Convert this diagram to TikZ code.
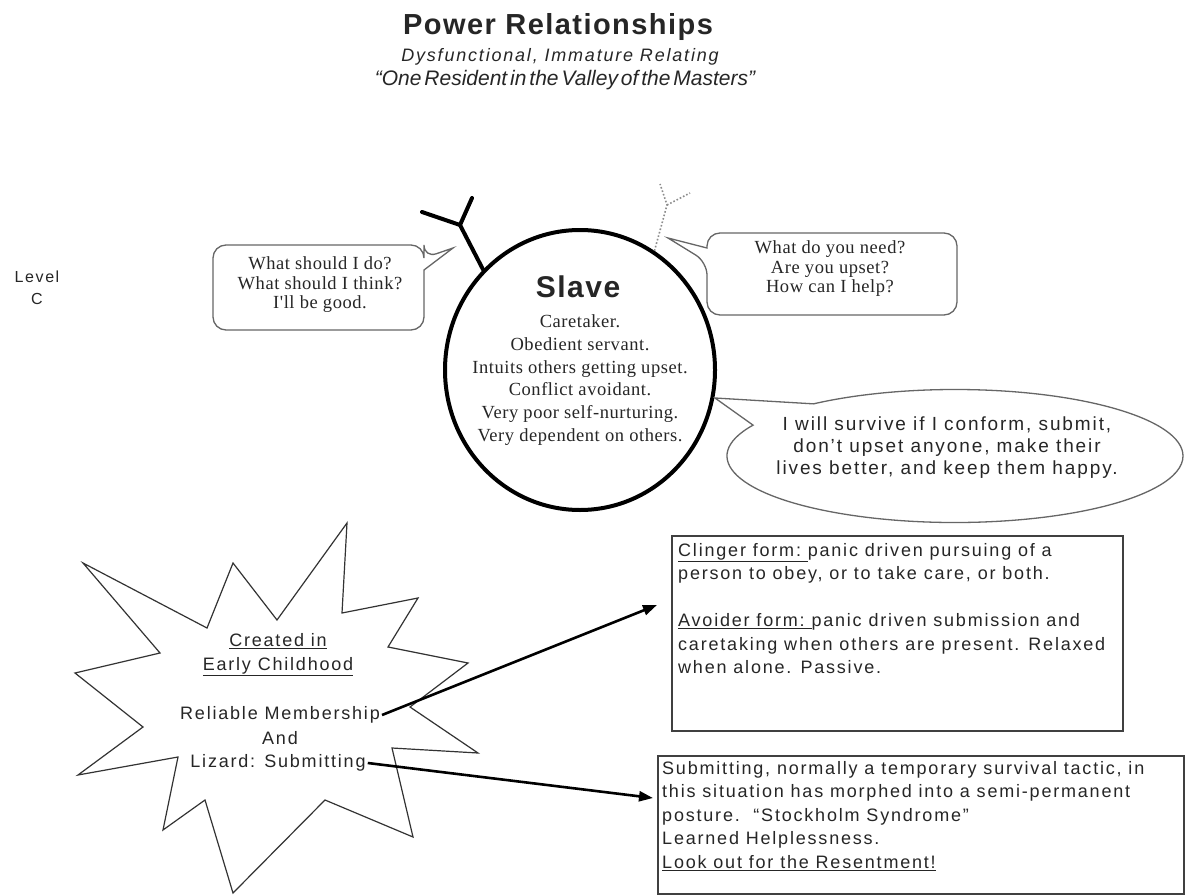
\documentclass[tikz,border=0pt]{standalone}
\usepackage{fontspec}
\setmainfont{Liberation Serif}
\setsansfont{Liberation Sans}
\newfontfamily\sansbody{Liberation Sans}[LetterSpace=10]
\newfontfamily\sanshead{Liberation Sans}[LetterSpace=5]
\newfontfamily\sansquote{Liberation Sans}[WordSpace=0.5]
\newfontfamily\serifbody{Liberation Serif}[LetterSpace=3]
\usetikzlibrary{arrows.meta,shapes.callouts,shapes.geometric}

\begin{document}
\begin{tikzpicture}[x=1pt,y=-1pt,
  ink/.style={text=black!85},
  heading/.style={ink, font=\sanshead\bfseries\fontsize{29}{34}\selectfont},
  subhead/.style={ink, font=\sansbody\itshape\fontsize{18}{22}\selectfont},
  quoteline/.style={ink, font=\sansquote\itshape\fontsize{21}{25}\selectfont},
  sanstext/.style={ink, inner sep=2pt, font=\sansbody\fontsize{18}{23.5}\selectfont},
  seriftext/.style={ink, align=center, inner sep=0pt, font=\serifbody\fontsize{18.5}{19.5}\selectfont},
  bubble/.style={draw=black!60, line width=1.3, fill=white},
  boxframe/.style={draw=black!75, line width=1.6, inner sep=0pt},
  starline/.style={draw=black!80, line width=1.2, line join=miter},
  link/.style={line width=2.6, -{Triangle[length=14pt,width=10pt]}},
  branch/.style={line width=4, line cap=round},
  faintbranch/.style={draw=black!45, line width=1.6, dotted},
]
\useasboundingbox (0,0) rectangle (1185,896);
\fill[white] (0,0) rectangle (1185,896);

% heading
\node[heading] (title) at (558,27) {Power Relationships};
\node[subhead] (subtitle) at (560,57) {Dysfunctional, Immature Relating};
\node[quoteline] (motto) at (565,80) {“One Resident in the Valley of the Masters”};

\node[ink, align=center, font=\sansbody\fontsize{16}{22}\selectfont] (level) at (37,288) {Level\\C};

% central figure
\node[ellipse, draw, line width=4, minimum width=270, minimum height=280, inner sep=0pt] (slave) at (580,370) {};
\node[ink, font=\sanshead\bfseries\fontsize{30}{34}\selectfont] (slavename) at (578,287) {Slave};
\node[seriftext, font=\serifbody\fontsize{18.5}{22.8}\selectfont] (traits) at (580,380)
  {Caretaker.\\Obedient servant.\\Intuits others getting upset.\\Conflict avoidant.\\Very poor self-nurturing.\\Very dependent on others.};

% antennae
\coordinate (forkA) at (460,225);
\coordinate (armA1) at (422,212);
\coordinate (armA2) at (472,198);
\draw[branch] (slave.134) -- (forkA) -- (armA1) (forkA) -- (armA2);
\coordinate (forkB) at (667,205);
\coordinate (armB1) at (660,184);
\coordinate (armB2) at (690,193);
\draw[faintbranch] (slave.58) -- (forkB) -- (armB1) (forkB) -- (armB2);

% speech bubbles
\draw[bubble] (213,290) [rounded corners=13] -- (213,245) -- (424,245) -- (424,258)
  [sharp corners] -- (453,248) -- (424,270) [rounded corners=13] -- (424,330) -- (213,330) -- cycle;
\node[seriftext] (askself) at (320,285) {What should I do?\\What should I think?\\I'll be good.};

\draw[bubble] (957,275) [rounded corners=13] -- (957,315) -- (707,315) -- (707,262)
  [sharp corners] -- (668,238) -- (707,248) [rounded corners=13] -- (707,233) -- (957,233) -- cycle;
\node[seriftext] (askother) at (830,269) {What do you need?\\Are you upset?\\How can I help?};

\node[ellipse callout, bubble, minimum width=456, minimum height=133,
      callout absolute pointer={(715,398)}, callout pointer arc=24] (belief) at (955,456) {};
\node[sanstext, align=center, font=\sansbody\fontsize{19}{22}\selectfont] (beliefText) at (947,448)
  {I will survive if I conform, submit,\\don’t upset anyone, make their\\lives better, and keep them happy.};

% starburst
\draw[starline] (347,523) -- (342,613) -- (418,598) -- (388,647) -- (468,663) -- (410,707)
  -- (478,753) -- (392,748) -- (413,837) -- (325,800) -- (233,893) -- (205,800) -- (163,830)
  -- (178,757) -- (78,775) -- (143,727) -- (75,673) -- (160,653) -- (83,563) -- (207,628)
  -- (233,563) -- (277,620) -- cycle;
\node[sanstext, align=center] (origin) at (278,655) {\underline{Created in}\\\underline{Early Childhood}};
\node[sanstext] (member) at (280,715) {Reliable Membership};
\node[sanstext] (andword) at (280,738) {And};
\node[sanstext] (lizard) at (278,763) {Lizard: Submitting};

% description boxes
\node[boxframe, minimum width=451, minimum height=195, anchor=north west] (forms) at (671,535) {};
\node[sanstext, anchor=north west, align=left, inner sep=0pt] (formsText) at (678,543)
  {\underline{Clinger form:\ }panic driven pursuing of a\\
   person to obey, or to take care, or both.\\[23.5pt]
   \underline{Avoider form:\ }panic driven submission and\\
   caretaking when others are present. Relaxed\\
   when alone. Passive.};

\node[boxframe, minimum width=526, minimum height=138, anchor=north west] (tactic) at (657,755) {};
\node[sanstext, anchor=north west, align=left, inner sep=0pt] (tacticText) at (662,761)
  {Submitting, normally a temporary survival tactic, in\\
   this situation has morphed into a semi-permanent\\
   posture.\ \ “Stockholm Syndrome”\\
   Learned Helplessness.\\
   \underline{Look out for the Resentment!}};

% connectors
\coordinate (formsTip) at (657,605);
\coordinate (tacticTip) at (653,798);
\draw[link] (member.east) -- (formsTip);
\draw[link] (lizard.east) -- (tacticTip);
\end{tikzpicture}
\end{document}
